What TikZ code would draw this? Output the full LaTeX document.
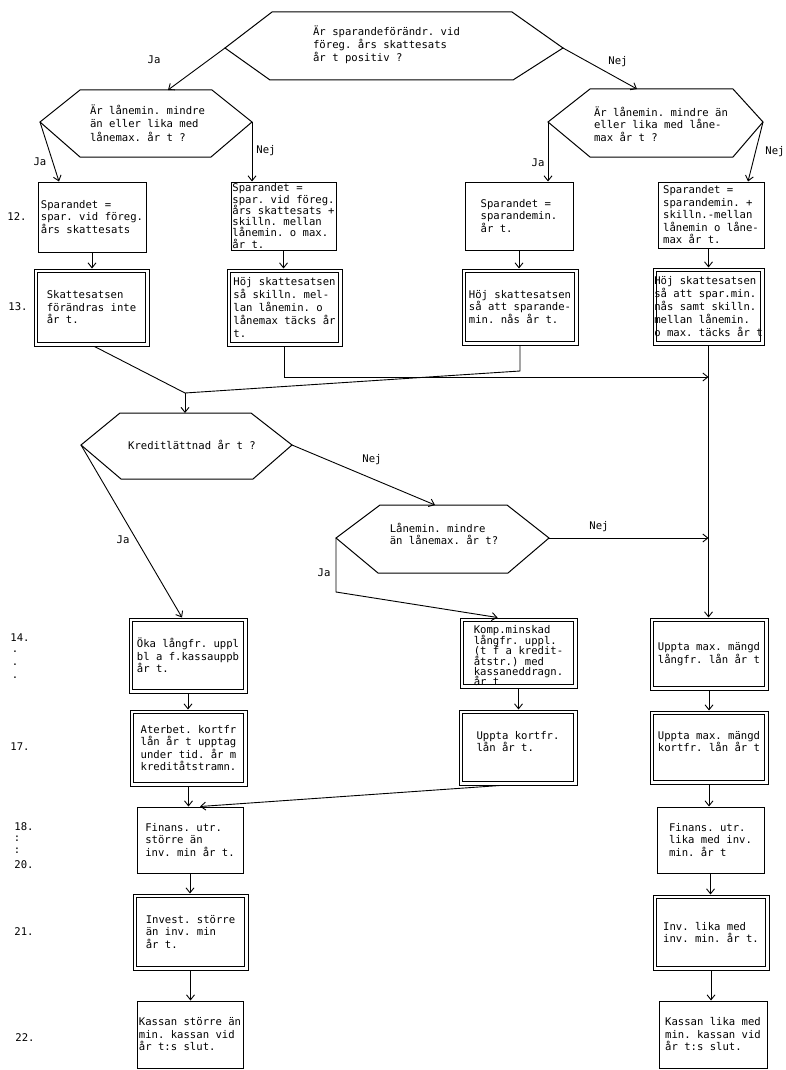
\documentclass[tikz,border=0pt]{standalone}
\usepackage{fontspec}
\setmonofont{DejaVu Sans Mono}
\usetikzlibrary{arrows.meta}
\newcommand\nolsk{\lineskiplimit=-6pt\relax}
\begin{document}
\begin{tikzpicture}[x=1pt,y=-1pt,
  txt/.style={font=\ttfamily\fontsize{10.6}{12.5}\selectfont\nolsk, align=left, inner sep=0pt},
  tight/.style={font=\ttfamily\fontsize{10.6}{11.3}\selectfont\nolsk},
  tighter/.style={font=\ttfamily\fontsize{10.6}{10.4}\selectfont\nolsk},
  loose/.style={font=\ttfamily\fontsize{10.6}{13.2}\selectfont\nolsk},
  sbox/.style={txt, draw, line width=1pt},
  dbox/.style={txt, draw, line width=1pt,
    path picture={\draw[line width=0.9pt]
      ([shift={(3.8pt,-3.8pt)}]path picture bounding box.north west) rectangle
      ([shift={(-3.8pt,3.8pt)}]path picture bounding box.south east);}},
  hex/.style={draw, line width=1pt, line join=miter},
  arr/.style={draw, line width=0.9pt, -{Straight Barb[length=5pt,width=8pt]}},
  ln/.style={draw, line width=0.9pt},
  lab/.style={txt}
]
\useasboundingbox (0,0) rectangle (785,1070);
\fill[white] (0,0) rectangle (785,1070);

% ---------- hexagons ----------
\coordinate (h1a) at (272,12); \coordinate (h1b) at (512,12); \coordinate (h1R) at (563,48);
\coordinate (h1c) at (513,80); \coordinate (h1d) at (270,80); \coordinate (h1L) at (225,48);
\draw[hex] (h1a)--(h1b)--(h1R)--(h1c)--(h1d)--(h1L)--cycle;
\node[txt, font=\ttfamily\fontsize{10.6}{13}\selectfont\nolsk] (t1) at (386.5,45) {Är sparandeförändr. vid\\föreg. års skattesats\\år t positiv ?};

\coordinate (h2a) at (80,90); \coordinate (h2b) at (212,90); \coordinate (h2R) at (252,122);
\coordinate (h2c) at (211,157); \coordinate (h2d) at (80,157); \coordinate (h2L) at (40,122);
\coordinate (h2T) at (168,90);
\draw[hex] (h2a)--(h2b)--(h2R)--(h2c)--(h2d)--(h2L)--cycle;
\node[txt, font=\ttfamily\fontsize{10.6}{13.5}\selectfont\nolsk] (t2) at (147.5,123) {Är lånemin. mindre\\än eller lika med\\lånemax. år t ?};

\coordinate (h3a) at (590,89); \coordinate (h3b) at (733,89); \coordinate (h3R) at (763,122);
\coordinate (h3c) at (733,157); \coordinate (h3d) at (590,157); \coordinate (h3L) at (548,122);
\coordinate (h3T) at (637,89);
\draw[hex] (h3a)--(h3b)--(h3R)--(h3c)--(h3d)--(h3L)--cycle;
\node[txt] (t3) at (661,124) {Är lånemin. mindre än\\eller lika med låne-\\max år t ?};

\coordinate (h4a) at (120,413); \coordinate (h4b) at (251,413); \coordinate (h4R) at (292,445);
\coordinate (h4c) at (253,479); \coordinate (h4d) at (121,479); \coordinate (h4L) at (81,445);
\coordinate (h4T) at (185,413);
\draw[hex] (h4a)--(h4b)--(h4R)--(h4c)--(h4d)--(h4L)--cycle;
\node[txt] (t4) at (192,445) {Kreditlättnad år t ?};

\coordinate (h5a) at (380,505); \coordinate (h5b) at (507,505); \coordinate (h5R) at (549,538);
\coordinate (h5c) at (508,573); \coordinate (h5d) at (378,573); \coordinate (h5L) at (336,538);
\coordinate (h5T) at (435,505);
\draw[hex] (h5a)--(h5b)--(h5R)--(h5c)--(h5d)--(h5L)--cycle;
\node[txt] (t5) at (444,534) {Lånemin. mindre\\än lånemax. år t?};

% ---------- row 12 ----------
\node[sbox, minimum width=108pt, minimum height=70pt] (b12a) at (92,217) {Sparandet =\\spar. vid föreg.\\års skattesats};
\node[sbox, tight, minimum width=105pt, minimum height=68pt] (b12b) at (283.5,216) {Sparandet =\\spar. vid föreg.\\års skattesats +\\skilln. mellan\\lånemin. o max.\\år t.};
\node[sbox, minimum width=108pt, minimum height=68pt] (b12c) at (519,216) {Sparandet =\\sparandemin.\\år t.};
\node[sbox, minimum width=106pt, minimum height=66pt] (b12d) at (711,215) {Sparandet =\\sparandemin. +\\skilln.-mellan\\lånemin o låne-\\max år t.};

% ---------- row 13 ----------
\node[dbox, minimum width=115pt, minimum height=77pt] (b13a) at (91.5,307.5) {Skattesatsen\\förändras inte\\år t.};
\node[dbox, loose, minimum width=115pt, minimum height=77pt] (b13b) at (284.5,307.5) {Höj skattesatsen\\så skilln. mel-\\lan lånemin. o\\lånemax täcks år\\t.};
\node[dbox, minimum width=116pt, minimum height=76pt] (b13c) at (520,307) {Höj skattesatsen\\så att sparande-\\min. nås år t.};
\node[dbox, loose, minimum width=111pt, minimum height=77pt] (b13d) at (708.5,306.5) {Höj skattesatsen\\så att spar.min.\\nås samt skilln.\\mellan lånemin.\\o max. täcks år t};

% ---------- left column ----------
\node[dbox, minimum width=118pt, minimum height=75pt] (b14a) at (188,655.5) {Öka långfr. uppl\\bl a f.kassauppb\\år t.};
\node[dbox, minimum width=117pt, minimum height=76pt] (b17a) at (188.5,748) {Aterbet. kortfr\\lån år t upptag\\under tid. år m\\kreditåtstramn.};
\node[sbox, minimum width=106pt, minimum height=66pt] (b18a) at (190,840) {Finans. utr.\\större än\\inv. min år t.};
\node[dbox, minimum width=115pt, minimum height=76pt] (b21a) at (190.5,932) {Invest. större\\än inv. min\\år t.};
\node[sbox, minimum width=106pt, minimum height=67pt] (b22a) at (190,1034.5) {Kassan större än\\min. kassan vid\\år t:s slut.};

% ---------- middle column ----------
\node[dbox, minimum width=117pt, minimum height=70pt] (b14b) at (518.5,653) {};
\node[txt, tighter] (t14b) at (518.5,656) {Komp.minskad\\långfr. uppl.\\(t f a kredit-\\åtstr.) med\\kassaneddragn.\\år t};
\node[dbox, minimum width=118pt, minimum height=75pt] (b17b) at (518,747.5) {Uppta kortfr.\\lån år t.\\{}};

% ---------- right column ----------
\node[dbox, minimum width=118pt, minimum height=72pt] (b14c) at (709,654) {Uppta max. mängd\\långfr. lån år t};
\node[dbox, minimum width=118pt, minimum height=73pt] (b17c) at (709,747.5) {Uppta max. mängd\\kortfr. lån år t\\{}};
\node[sbox, minimum width=107pt, minimum height=66pt] (b18c) at (710.5,840) {Finans. utr.\\lika med inv.\\min. år t};
\node[dbox, minimum width=116pt, minimum height=75pt] (b21c) at (711,932.5) {Inv. lika med\\inv. min. år t.};
\node[sbox, minimum width=108pt, minimum height=67pt] (b22c) at (713,1034.5) {Kassan lika med\\min. kassan vid\\år t:s slut.};

% ---------- row numbers ----------
\node[txt] (n12) at (17,217) {12.};
\node[txt] (n13) at (18,307) {13.};
\node[txt] (n14) at (20,638) {14.};
\node[txt] (d14a) at (15,652) {.};
\node[txt] (d14b) at (15,665) {.};
\node[txt] (d14c) at (15,678) {.};
\node[txt] (n17) at (20,747) {17.};
\node[txt] (n18) at (24,827) {18.};
\node[txt] (d18a) at (17,839) {:};
\node[txt] (d18b) at (17,851) {:};
\node[txt] (n20) at (24,865) {20.};
\node[txt] (n21) at (24,932) {21.};
\node[txt] (n22) at (25,1038) {22.};

% ---------- connectors ----------
\draw[arr] (h1L) -- (h2T);
\node[lab] (ja1) at (154,60) {Ja};
\draw[arr] (h1R) -- (h3T);
\node[lab] (nej1) at (618,62) {Nej};

\draw[arr] (h2L) -- ([xshift=-33pt]b12a.north);
\node[lab] (ja2) at (40,162) {Ja};
\draw[arr] (h2R) -- (h2R |- b12b.north);
\node[lab] (nej2) at (266,151) {Nej};

\draw[arr] (h3L) -- (h3L |- b12c.north);
\node[lab] (ja3) at (538,163) {Ja};
\draw[arr] (h3R) -- ([xshift=37pt]b12d.north);
\node[lab] (nej3) at (775,152) {Nej};

\draw[arr] (b12a.south) -- (b12a.south |- b13a.north);
\draw[arr] (b12b.south) -- (b12b.south |- b13b.north);
\draw[arr] (b12c.south) -- (b12c.south |- b13c.north);
\draw[arr] (b13d.north |- b12d.south) -- (b13d.north);

% merging lines
\coordinate (jn) at (185,393);
\coordinate (v1) at (708.5,377);
\coordinate (v2) at (708.5,538);
\coordinate (k13c) at (520,371);
\draw[ln] ([xshift=3pt]b13a.south) -- (jn);
\draw[ln] (b13c.south) -- (k13c) -- (jn);
\draw[arr] (jn) -- (h4T);
\draw[arr] (b13b.south) |- (v1);
\draw[arr] (b13d.south) -- (b13d.south |- b14c.north);

% credit decision
\draw[arr] (h4L) -- ([xshift=-6pt]b14a.north);
\node[lab] (ja4) at (123,540) {Ja};
\draw[arr] (h4R) -- (h5T);
\node[lab] (nej4) at (372,460) {Nej};

\coordinate (c5) at (336,592);
\draw[arr] (h5L) -- (c5) -- ([xshift=-21pt]b14b.north);
\node[lab] (ja5) at (324,573) {Ja};
\draw[arr] (h5R) -- (v2);
\node[lab] (nej5) at (599,527) {Nej};

% lower columns
\draw[arr] (b14a.south) -- (b14a.south |- b17a.north);
\draw[arr] (b17a.south) -- (b17a.south |- b18a.north);
\draw[arr] (b18a.south) -- (b18a.south |- b21a.north);
\draw[arr] (b21a.south) -- (b21a.south |- b22a.north);

\draw[arr] (b14b.south) -- (b14b.south |- b17b.north);
\draw[arr] ([xshift=-18pt]b17b.south) -- ([xshift=10pt]b18a.north);

\draw[arr] (b14c.south) -- (b14c.south |- b17c.north);
\draw[arr] (b17c.south) -- (b17c.south |- b18c.north);
\draw[arr] (b18c.south) -- (b18c.south |- b21c.north);
\draw[arr] (b21c.south) -- (b21c.south |- b22c.north);
\end{tikzpicture}
\end{document}
